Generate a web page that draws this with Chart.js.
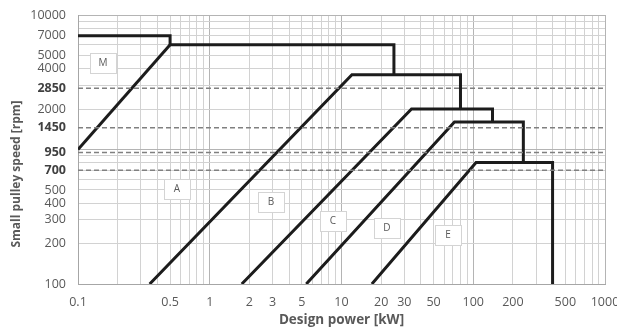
<!DOCTYPE html>
<html>
<head>
<meta charset="utf-8">
<script src="https://cdn.jsdelivr.net/npm/chart.js@4/dist/chart.umd.min.js"></script>
<style>
  html, body { margin: 0; padding: 0; background: #fff; }
  canvas { display: block; }
</style>
</head>
<body>
<canvas id="beltChart" width="617" height="329"></canvas>
<script>
// belt section selection chart (design power vs small pulley speed)

const powerTicks = [0.1, 0.5, 1, 2, 3, 5, 10, 20, 30, 50, 100, 200, 500, 1000];
const speedTicks = [100, 200, 300, 400, 500, 700, 950, 1450, 2000, 2850, 4000, 5000, 7000, 10000];
const motorSpeeds = [2850, 1450, 950, 700];

// boundary lines between belt sections
const topPower = [0.1, 0.5, 0.5, 25, 25];
const topSpeed = [7000, 7000, 6000, 6000, 3600];
const mPower = [0.1, 0.5];
const mSpeed = [1000, 6000];
const abPower = [0.35, 12, 80, 80];
const abSpeed = [100, 3600, 3600, 2000];
const bcPower = [1.75, 34, 140, 140];
const bcSpeed = [100, 2000, 2000, 1600];
const cdPower = [5.4, 72, 240, 240];
const cdSpeed = [100, 1600, 1600, 800];
const dePower = [17, 105, 400, 400];
const deSpeed = [100, 800, 800, 100];

// section names and where they sit
const zoneNames = ['M', 'A', 'B', 'C', 'D', 'E'];
const zonePower = [0.155, 0.56, 2.9, 8.6, 22, 64];
const zoneSpeed = [4400, 510, 405, 295, 260, 230];

const FONT = "'Open Sans', 'DejaVu Sans', sans-serif";
const TEXT = '#595959';

function logGrid(from, to) {
    const out = [];
    for (let d = from; d < to * 0.999; d *= 10) {
        for (let k = 1; k <= 9; k++) out.push(Number((k * d).toPrecision(6)));
    }
    out.push(to);
    return out;
}
const xGrid = logGrid(0.1, 1000);
const yGrid = logGrid(100, 10000);

const has = (arr, v) => arr.some(a => Math.abs(a - v) < 1e-9 * Math.max(1, v));

function toPoints(xs, ys) {
    return xs.map((x, i) => ({ x: x, y: ys[i] }));
}

function boundary(xs, ys) {
    return {
        data: toPoints(xs, ys),
        showLine: true,
        borderColor: '#1c1c1c',
        borderWidth: 3,
        borderJoinStyle: 'miter',
        pointRadius: 0,
        fill: false
    };
}

const dashed = motorSpeeds.map(s => ({
    data: [{ x: 0.1, y: s }, { x: 1000, y: s }],
    showLine: true,
    borderColor: '#808080',
    borderWidth: 1.5,
    borderDash: [5, 3],
    pointRadius: 0,
    fill: false
}));

const zoneLabelPlugin = {
    id: 'zoneLabels',
    afterDatasetsDraw(chart) {
        const ctx = chart.ctx;
        const xs = chart.scales.x, ys = chart.scales.y;
        ctx.save();
        ctx.font = '10px ' + FONT;
        ctx.textAlign = 'center';
        ctx.textBaseline = 'middle';
        zoneNames.forEach((name, i) => {
            const px = Math.round(xs.getPixelForValue(zonePower[i]));
            const py = Math.round(ys.getPixelForValue(zoneSpeed[i]));
            ctx.fillStyle = '#ffffff';
            ctx.fillRect(px - 13, py - 10, 26, 20);
            ctx.strokeStyle = '#d4d4d4';
            ctx.lineWidth = 1;
            ctx.strokeRect(px - 13 + 0.5, py - 10 + 0.5, 26, 20);
            ctx.fillStyle = TEXT;
            ctx.fillText(name, px, py + 0.5);
        });
        // y axis title
        ctx.translate(17, 174);
        ctx.rotate(-Math.PI / 2);
        ctx.font = 'bold 12px ' + FONT;
        ctx.fillStyle = TEXT;
        ctx.fillText('Small pulley speed [rpm]', 0, 0);
        ctx.restore();
    }
};

new Chart(document.getElementById('beltChart'), {
    type: 'scatter',
    data: {
        datasets: dashed.concat([
            boundary(topPower, topSpeed),
            boundary(mPower, mSpeed),
            boundary(abPower, abSpeed),
            boundary(bcPower, bcSpeed),
            boundary(cdPower, cdSpeed),
            boundary(dePower, deSpeed)
        ])
    },
    options: {
        responsive: false,
        animation: false,
        layout: { padding: { top: 15, right: 12, left: 0, bottom: 0 } },
        plugins: {
            legend: { display: false },
            tooltip: { enabled: false }
        },
        scales: {
            x: {
                type: 'logarithmic',
                min: 0.1,
                max: 1000,
                afterBuildTicks: scale => { scale.ticks = xGrid.map(v => ({ value: v })); },
                afterFit: scale => {
                    scale.height = 45;
                    scale.paddingLeft = 0;
                    scale.paddingRight = 0;
                },
                ticks: {
                    autoSkip: false,
                    maxRotation: 0,
                    padding: 11,
                    color: TEXT,
                    font: { family: FONT, size: 12.5 },
                    callback: v => has(powerTicks, v) ? String(v) : ''
                },
                grid: {
                    drawTicks: false,
                    color: ctx => {
                        const v = ctx.tick ? ctx.tick.value : 0;
                        return (has([0.1, 1, 10, 100, 1000], v)) ? '#b4b4b4' : '#d2d2d2';
                    }
                },
                border: { color: '#a6a6a6' },
                title: {
                    display: true,
                    text: 'Design power [kW]',
                    color: TEXT,
                    font: { family: FONT, size: 13.5, weight: 'bold' },
                    padding: { top: 0, bottom: 1 }
                }
            },
            y: {
                type: 'logarithmic',
                min: 100,
                max: 10000,
                afterBuildTicks: scale => {
                    const vals = yGrid.concat(motorSpeeds.filter(s => !has(yGrid, s)));
                    vals.sort((a, b) => a - b);
                    scale.ticks = vals.map(v => ({ value: v }));
                },
                afterFit: scale => {
                    scale.width = 78;
                    scale.paddingTop = 0;
                    scale.paddingBottom = 0;
                },
                ticks: {
                    autoSkip: false,
                    padding: 12,
                    color: ctx => has(motorSpeeds, ctx.tick.value) ? '#404040' : TEXT,
                    font: ctx => ({
                        family: FONT,
                        size: 12.5,
                        weight: has(motorSpeeds, ctx.tick.value) ? 'bold' : 'normal'
                    }),
                    callback: v => has(speedTicks, v) ? String(v) : ''
                },
                grid: {
                    drawTicks: false,
                    color: ctx => {
                        const v = ctx.tick ? ctx.tick.value : 0;
                        if (!has(yGrid, v)) return 'rgba(0,0,0,0)';
                        return has([100, 1000, 10000], v) ? '#b4b4b4' : '#d2d2d2';
                    }
                },
                border: { color: '#a6a6a6' }
            }
        }
    },
    plugins: [zoneLabelPlugin]
});
</script>
</body>
</html>
